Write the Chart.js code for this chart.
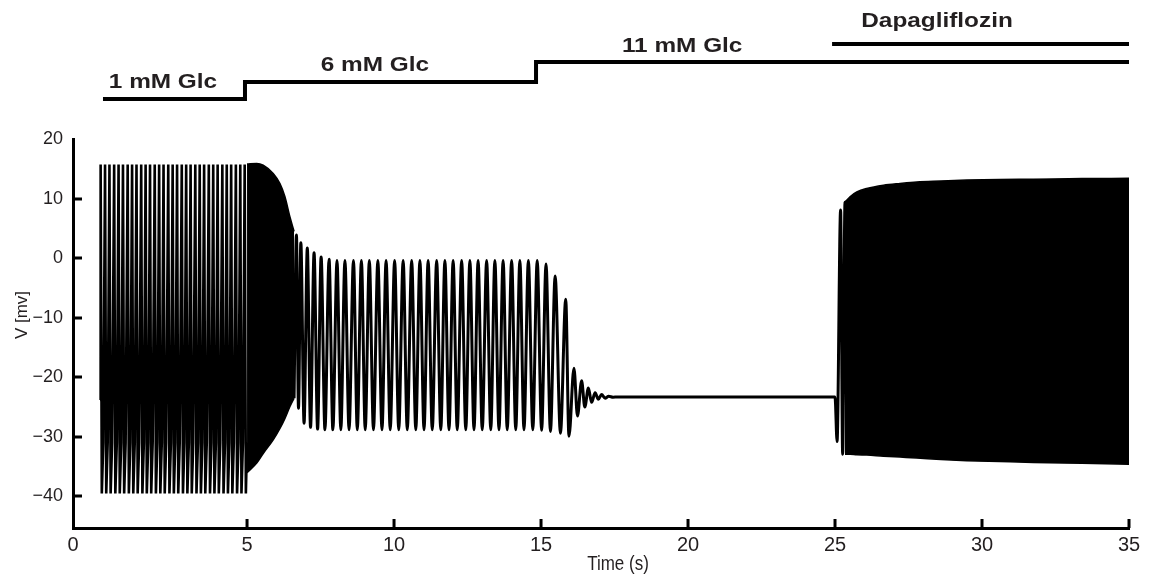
<!DOCTYPE html>
<html>
<head>
<meta charset="utf-8">
<script src="https://cdn.jsdelivr.net/npm/chart.js@4/dist/chart.umd.min.js"></script>
<style>
  html, body { margin: 0; padding: 0; background: #fff; }
  canvas { display: block; }
</style>
</head>
<body>
<canvas id="trace" width="1152" height="576" style="width:1152px;height:576px"></canvas>
<script>
// axis ticks
const xTickLabels = ["0", "5", "10", "15", "20", "25", "30", "35"];
const yTickValues = [-40, -30, -20, -10, 0, 10, 20];

// solution changes on top (time, s)
const glcStepT = [0.1, 4.93, 14.83, 35];
const glcLabels = ["1 mM Glc", "6 mM Glc", "11 mM Glc"];
const dapaT = [24.9, 35];
const dapaLabel = "Dapagliflozin";

// 1 mM glucose: spike train (peak, after-hyperpolarisation, recovery)
const lowGlcT = [0.00,
  0.02, 0.06, 0.11, 0.17, 0.21, 0.26, 0.32, 0.36, 0.41, 0.48, 0.52, 0.57,
  0.63, 0.67, 0.72, 0.78, 0.82, 0.87, 0.94, 0.98, 1.03, 1.09, 1.13, 1.18,
  1.24, 1.28, 1.33, 1.40, 1.44, 1.49, 1.55, 1.59, 1.64, 1.70, 1.74, 1.79,
  1.86, 1.90, 1.95, 2.01, 2.05, 2.10, 2.16, 2.20, 2.25, 2.32, 2.36, 2.41,
  2.47, 2.51, 2.56, 2.62, 2.66, 2.71, 2.78, 2.82, 2.87, 2.93, 2.97, 3.02,
  3.08, 3.12, 3.17, 3.24, 3.28, 3.33, 3.39, 3.43, 3.48, 3.54, 3.58, 3.63,
  3.70, 3.74, 3.79, 3.85, 3.89, 3.94, 4.00, 4.04, 4.09, 4.16, 4.20, 4.25,
  4.31, 4.35, 4.40, 4.46, 4.50, 4.55, 4.62, 4.66, 4.71, 4.77, 4.81, 4.86,
  4.92, 4.96, 5.00];
const lowGlcV = [-23.8,
  15.7, -39.5, -31, 15.7, -39.5, -31, 15.7, -39.5, -31, 15.7, -39.5, -31,
  15.7, -39.5, -31, 15.7, -39.5, -31, 15.7, -39.5, -31, 15.7, -39.5, -31,
  15.7, -39.5, -31, 15.7, -39.5, -31, 15.7, -39.5, -31, 15.7, -39.5, -31,
  15.7, -39.5, -31, 15.7, -39.5, -31, 15.7, -39.5, -31, 15.7, -39.5, -31,
  15.7, -39.5, -31, 15.7, -39.5, -31, 15.7, -39.5, -31, 15.7, -39.5, -31,
  15.7, -39.5, -31, 15.7, -39.5, -31, 15.7, -39.5, -31, 15.7, -39.5, -31,
  15.7, -39.5, -31, 15.7, -39.5, -31, 15.7, -39.5, -31, 15.7, -39.5, -31,
  15.7, -39.5, -31, 15.7, -39.5, -31, 15.7, -39.5, -31, 15.7, -39.5, -31,
  15.7, -39.5, -31];

// dense firing right after the switch to 6 mM (envelope)
const burstT = [5.00, 5.33, 5.55, 5.89, 6.12, 6.29, 6.46, 6.60];
const burstTop = [15.8, 15.9, 15.6, 14.2, 12.5, 10.3, 6.9, 4.5];
const burstBottom = [-36.0, -34.4, -32.8, -30.5, -28.6, -26.9, -24.9, -23.5];

// 6 mM glucose oscillations, damping out at 11 mM (extrema)
const midGlcT = [6.60, 6.68, 6.75, 6.83, 6.94, 7.05, 7.16, 7.28, 7.40, 7.52, 7.65,
  7.79, 7.92, 8.06, 8.19, 8.33, 8.47, 8.62, 8.75, 8.89, 9.02, 9.16, 9.30, 9.45,
  9.59, 9.73, 9.87, 10.02, 10.16, 10.31, 10.45, 10.60, 10.74, 10.88, 11.02, 11.16,
  11.30, 11.45, 11.59, 11.73, 11.87, 12.01, 12.15, 12.30, 12.44, 12.58, 12.72,
  12.86, 13.00, 13.15, 13.29, 13.43, 13.57, 13.71, 13.85, 14.00, 14.14, 14.28,
  14.42, 14.57, 14.72, 14.87, 15.02, 15.17, 15.32, 15.48, 15.66, 15.84, 15.95,
  16.12, 16.24, 16.38, 16.49, 16.61, 16.72, 16.84, 16.95, 17.06, 17.18, 17.30,
  17.45, 17.60, 25.00];
const midGlcV = [-23.5, 3.9, -25.2, 2.6, -27.7, 1.7, -28.4, 0.9, -28.7, 0.2, -28.8,
  -0.2, -28.8, -0.4, -28.8, -0.4, -28.8, -0.4, -28.8, -0.4, -28.8, -0.4, -28.8, -0.4,
  -28.8, -0.4, -28.8, -0.4, -28.8, -0.4, -28.8, -0.4, -28.8, -0.4, -28.8, -0.4,
  -28.8, -0.4, -28.8, -0.4, -28.8, -0.4, -28.8, -0.4, -28.8, -0.4, -28.8,
  -0.4, -28.8, -0.4, -28.8, -0.4, -28.8, -0.4, -28.8, -0.4, -28.8, -0.4,
  -28.8, -0.4, -28.8, -0.4, -28.9, -1.0, -29.1, -3.0, -29.4, -6.9, -29.9,
  -18.5, -26.5, -20.6, -25.0, -21.8, -24.2, -22.6, -23.7, -22.9, -23.5, -23.2,
  -23.35, -23.3, -23.3];

// dapagliflozin: first spikes, then dense firing (envelope)
const dapaOnsetT = [25.07, 25.19, 25.26, 25.34, 25.40];
const dapaOnsetV = [-30.8, 8.1, -32.9, 9.4, -32.9];
const dapaT2 = [25.34, 25.51, 25.74, 26.08, 26.65, 27.21, 27.78, 28.6, 29.48, 30.6, 31.75, 33.4, 35.0];
const dapaTop = [9.4, 10.3, 11.1, 11.7, 12.25, 12.55, 12.8, 12.95, 13.1, 13.2, 13.25, 13.35, 13.4];
const dapaBottom = [-32.9, -32.9, -33.0, -33.05, -33.25, -33.4, -33.55, -33.8, -34.0, -34.15, -34.3, -34.45, -34.6];

function pts(ts, vs) {
  return ts.map((t, i) => ({ x: t, y: vs[i] }));
}

const INK = "#000";
const TEXT = "#231f20";
const SANS = "'Liberation Sans', Arial, sans-serif";

const decor = {
  id: "decor",
  afterDatasetsDraw(chart) {
    const { ctx, chartArea: a, scales: { x, y } } = chart;
    ctx.save();
    // inward tick marks
    ctx.strokeStyle = INK;
    ctx.lineWidth = 3;
    ctx.beginPath();
    xTickLabels.forEach((lab, i) => {
      if (i === 0) return;
      const px = x.getPixelForValue(Number(lab));
      ctx.moveTo(px, a.bottom);
      ctx.lineTo(px, a.bottom - 9);
    });
    yTickValues.forEach(v => {
      if (v === 20) return;
      const py = Math.round(y.getPixelForValue(v));
      ctx.moveTo(a.left, py);
      ctx.lineTo(a.left + 9, py);
    });
    ctx.stroke();

    // glucose steps
    const levels = [99, 82, 62];
    ctx.lineWidth = 4;
    ctx.lineJoin = "miter";
    ctx.beginPath();
    ctx.moveTo(x.getPixelForValue(glcStepT[0]), levels[0]);
    for (let i = 1; i < glcStepT.length; i++) {
      const px = x.getPixelForValue(glcStepT[i]);
      ctx.lineTo(px, levels[i - 1]);
      if (i < levels.length) ctx.lineTo(px, levels[i]);
    }
    ctx.stroke();
    // dapagliflozin bar
    ctx.beginPath();
    ctx.moveTo(x.getPixelForValue(dapaT[0]), 44);
    ctx.lineTo(x.getPixelForValue(dapaT[1]), 44);
    ctx.stroke();

    // labels
    ctx.fillStyle = TEXT;
    ctx.font = "bold 21px " + SANS;
    ctx.textAlign = "center";
    ctx.textBaseline = "alphabetic";
    const labelT = [2.14, 9.35, 19.8];
    const baseY = [88, 71, 52];
    const put = (txt, t, by) => {
      ctx.save();
      ctx.translate(x.getPixelForValue(t), by);
      ctx.scale(1.16, 1);
      ctx.fillText(txt, 0, 0);
      ctx.restore();
    };
    glcLabels.forEach((txt, i) => put(txt, labelT[i], baseY[i]));
    put(dapaLabel, 28.47, 27);

    // axis titles
    ctx.save();
    ctx.translate(618, 564);
    ctx.scale(0.85, 1);
    ctx.font = "20px " + SANS;
    ctx.textBaseline = "middle";
    ctx.fillText("Time (s)", 0, 0);
    ctx.restore();
    ctx.save();
    ctx.translate(22, 315);
    ctx.rotate(-Math.PI / 2);
    ctx.font = "17px " + SANS;
    ctx.textBaseline = "middle";
    ctx.fillText("V [mv]", 0, 0);
    ctx.restore();
    ctx.restore();
  }
};

new Chart(document.getElementById("trace"), {
  type: "line",
  data: {
    datasets: [
      {
        data: pts(lowGlcT, lowGlcV),
        borderColor: INK,
        borderWidth: 2.6,
        borderJoinStyle: "bevel",
        pointRadius: 0,
        tension: 0,
        fill: false
      },
      {
        data: pts(midGlcT, midGlcV).concat(pts(dapaOnsetT, dapaOnsetV)),
        borderColor: INK,
        borderWidth: 3,
        pointRadius: 0,
        cubicInterpolationMode: "monotone",
        fill: false
      },
      {
        data: pts(burstT, burstTop),
        borderColor: INK,
        backgroundColor: INK,
        borderWidth: 1.5,
        pointRadius: 0,
        cubicInterpolationMode: "monotone",
        fill: "+1"
      },
      {
        data: pts(burstT, burstBottom),
        borderColor: INK,
        borderWidth: 1.5,
        pointRadius: 0,
        cubicInterpolationMode: "monotone",
        fill: false
      },
      {
        data: pts(dapaT2, dapaTop),
        borderColor: INK,
        backgroundColor: INK,
        borderWidth: 1.5,
        pointRadius: 0,
        cubicInterpolationMode: "monotone",
        fill: "+1"
      },
      {
        data: pts(dapaT2, dapaBottom),
        borderColor: INK,
        borderWidth: 1.5,
        pointRadius: 0,
        cubicInterpolationMode: "monotone",
        fill: false
      }
    ]
  },
  options: {
    responsive: false,
    animation: false,
    layout: { padding: { top: 139, right: 23, left: 0, bottom: 0 } },
    plugins: {
      legend: { display: false },
      tooltip: { enabled: false }
    },
    scales: {
      x: {
        type: "linear",
        min: -0.92,
        max: 35,
        afterBuildTicks: (s) => {
          s.ticks = xTickLabels.map((lab, i) => ({ value: i === 0 ? s.min : Number(lab) }));
        },
        afterFit: (s) => { s.height = 48; },
        grid: { display: false, drawTicks: false },
        border: { display: true, color: INK, width: 3 },
        ticks: {
          color: TEXT,
          padding: 5,
          maxRotation: 0,
          autoSkip: false,
          font: { family: SANS, size: 20 },
          callback: (v, i) => xTickLabels[i]
        },
        title: { display: false }
      },
      y: {
        min: -45.3,
        max: 20,
        afterBuildTicks: (s) => {
          s.ticks = yTickValues.map(v => ({ value: v }));
        },
        afterFit: (s) => { s.width = 73; },
        grid: { display: false, drawTicks: false },
        border: { display: true, color: INK, width: 3 },
        ticks: {
          color: TEXT,
          padding: 10,
          font: { family: SANS, size: 18 },
          callback: (v) => (v < 0 ? "\u2212" + Math.abs(v) : String(v))
        },
        title: { display: false }
      }
    }
  },
  plugins: [decor]
});
</script>
</body>
</html>
